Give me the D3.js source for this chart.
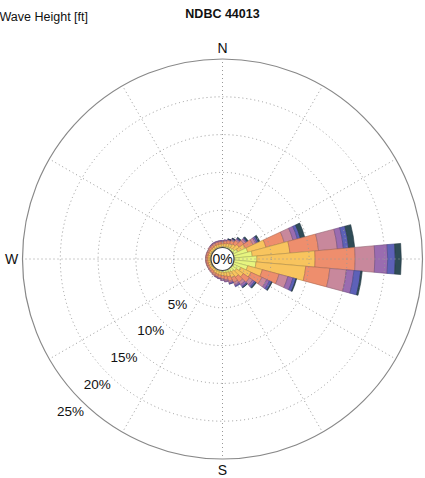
<!DOCTYPE html>
<html>
<head>
<meta charset="utf-8">
<script src="https://cdn.jsdelivr.net/npm/d3@7"></script>
<style>
  body { margin: 0; background: #fff; }
  svg { display: block; font-family: "Liberation Sans", Arial, sans-serif; }
</style>
</head>
<body>
<div id="rose"></div>
<script>
// direction bins (deg, centre of 10 deg sector)
const directions = d3.range(0, 360, 10);
const heightBins = ['0-1', '1-2', '2-3', '3-4', '4-5', '5-6', '6+'];
const binColors = ['#e7f57f', '#f8c45e', '#ee8e6d', '#c8889c', '#9a6cb0', '#5d61b8', '#2f4c57'];

// frequency [%] per direction, one array per wave height bin
const bin0 = [0.2,0.2,0.25,0.3,0.35,0.45,0.8,2.0,2.5,3.1,3.0,2.0,1.2,0.8,0.6,0.5,0.4,0.35,0.3,0.3,0.25,0.25,0.2,0.2,0.2,0.2,0.2,0.2,0.2,0.2,0.2,0.2,0.2,0.2,0.2,0.2];
const bin1 = [0.35,0.4,0.45,0.5,0.6,0.8,1.1,2.5,5.0,7.7,6.6,2.0,1.5,1.1,0.9,0.8,0.6,0.5,0.45,0.4,0.4,0.35,0.3,0.3,0.3,0.3,0.3,0.3,0.3,0.3,0.3,0.3,0.3,0.35,0.35,0.35];
const bin2 = [0.3,0.35,0.4,0.45,0.6,0.75,1.1,2.5,3.8,5.3,3.2,2.3,1.6,1.0,0.8,0.7,0.6,0.45,0.4,0.35,0.3,0.3,0.3,0.25,0.25,0.25,0.25,0.25,0.25,0.25,0.25,0.3,0.3,0.3,0.3,0.3];
const bin3 = [0.1,0.1,0.1,0.15,0.2,0.3,0.4,1.2,2.5,2.6,2.2,1.2,0.7,0.5,0.4,0.3,0.2,0.2,0.15,0.1,0.1,0.1,0.1,0.1,0.05,0.05,0.05,0.05,0.05,0.05,0.05,0.1,0.1,0.1,0.1,0.1];
const bin4 = [0.05,0.05,0.05,0.1,0.1,0.15,0.2,0.6,0.8,1.7,1.0,0.7,0.4,0.3,0.3,0.2,0.15,0.1,0.1,0.05,0.05,0,0,0,0,0,0,0,0,0,0,0,0.05,0.05,0.05,0.05];
const bin5 = [0,0,0.03,0.05,0.1,0.1,0.2,0.4,0.7,1.0,0.9,0.4,0.3,0.2,0.15,0.1,0.05,0,0,0,0,0,0,0,0,0,0,0,0,0,0,0,0,0,0,0];
const bin6 = [0,0,0.02,0.05,0.1,0.15,0.2,0.6,0.8,0.8,0.2,0.1,0.1,0.1,0.05,0,0,0,0,0,0,0,0,0,0,0,0,0,0,0,0,0,0,0,0,0];

const ringTicks = [5, 10, 15, 20];
const ringLabels = ['5%', '10%', '15%', '20%', '25%'];
// E falls outside the picture in the original, so only three are shown
const compass = [{t:'N', a:0}, {t:'S', a:180}, {t:'W', a:270}];

const width = 425, height = 478;
const cx = 222.5, cy = 259, hole = 11, outer = 200;

const svg = d3.select('#rose')
              .append('svg')
              .attr('width', width)
              .attr('height', height);

let r = d3.scaleLinear().domain([0, 25]).range([hole, outer]);
const rad = d => d * Math.PI / 180;

const g = svg.append('g').attr('transform', 'translate(' + cx + ',' + cy + ')');

// stack the bins per direction
const bins = [bin0, bin1, bin2, bin3, bin4, bin5, bin6];
let segs = [];
directions.forEach((dir, i) => {
    let cum = 0;
    bins.forEach((b, k) => {
        if (b[i] > 0) {
            segs.push({dir: dir, k: k, r0: cum, r1: cum + b[i]});
        }
        cum += b[i];
    });
});

const arc = d3.arc()
              .innerRadius(d => r(d.r0))
              .outerRadius(d => r(d.r1))
              .startAngle(d => rad(d.dir - 5))
              .endAngle(d => rad(d.dir + 5));

g.selectAll('path.seg')
    .data(segs)
    .enter()
    .append('path')
    .attr('class', 'seg')
    .attr('d', arc)
    .style('fill', d => binColors[d.k])
    .style('stroke', d => d3.color(binColors[d.k]).darker(0.9))
    .style('stroke-width', 0.6);

// grid on top
g.selectAll('circle.ring')
    .data(ringTicks)
    .enter()
    .append('circle')
    .attr('r', d => r(d))
    .style('fill', 'none')
    .style('stroke', '#999')
    .style('stroke-width', 1)
    .style('stroke-dasharray', '1,3');

g.selectAll('line.spoke')
    .data(d3.range(0, 360, 30))
    .enter()
    .append('line')
    .attr('x1', 0).attr('y1', 0)
    .attr('x2', d => outer * Math.sin(rad(d)))
    .attr('y2', d => -outer * Math.cos(rad(d)))
    .style('stroke', '#999')
    .style('stroke-width', 1)
    .style('stroke-dasharray', '1,3');

g.append('circle')
    .attr('r', outer)
    .style('fill', 'none')
    .style('stroke', '#888')
    .style('stroke-width', 1.2);

// centre calm circle
g.append('circle')
    .attr('r', hole + 0.5)
    .style('fill', '#fff')
    .style('stroke', '#444')
    .style('stroke-width', 1.2);

g.append('text')
    .attr('y', 5)
    .style('text-anchor', 'middle')
    .style('font-size', '14px')
    .style('fill', '#111')
    .text('0%');

// ring labels along SW
g.selectAll('text.rl')
    .data(ringLabels)
    .enter()
    .append('text')
    .attr('x', (d, i) => (r(5 * (i + 1)) + 15) * Math.sin(rad(225)))
    .attr('y', (d, i) => -(r(5 * (i + 1)) + 15) * Math.cos(rad(225)) + 4.5)
    .style('text-anchor', 'middle')
    .style('font-size', '13.5px')
    .style('fill', '#111')
    .text(d => d);

g.selectAll('text.cp')
    .data(compass)
    .enter()
    .append('text')
    .attr('x', d => (outer + 11) * Math.sin(rad(d.a)))
    .attr('y', d => -(outer + 11) * Math.cos(rad(d.a)) + 5)
    .style('text-anchor', 'middle')
    .style('font-size', '14px')
    .style('fill', '#111')
    .text(d => d.t);

svg.append('text')
    .attr('x', 222.5)
    .attr('y', 17.5)
    .style('text-anchor', 'middle')
    .style('font-size', '12.5px')
    .style('font-weight', 'bold')
    .style('fill', '#111')
    .text('NDBC 44013');

svg.append('text')
    .attr('x', 88)
    .attr('y', 20.5)
    .style('text-anchor', 'end')
    .style('font-size', '12.5px')
    .style('fill', '#111')
    .text('Wave Height [ft]');
</script>
</body>
</html>
